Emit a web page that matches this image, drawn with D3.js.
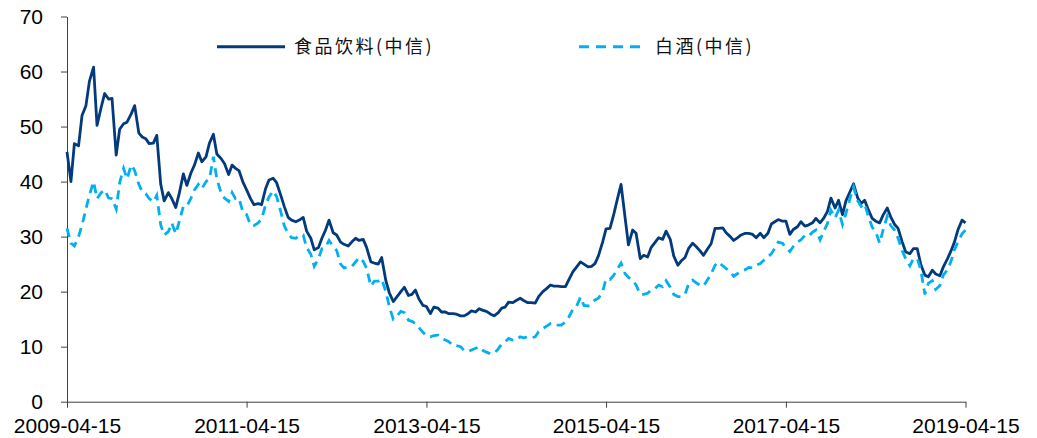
<!DOCTYPE html>
<html>
<head>
<meta charset="utf-8">
<script src="https://cdn.jsdelivr.net/npm/d3@7"></script>
<style>
  body { margin: 0; background: #fff; }
  svg { display: block; }
</style>
</head>
<body>
<svg id="chart" width="1037" height="438"></svg>
<script>
// data (semi-monthly samples: 15th, then 1st / 15th of each month)
const startDate = '2009-04-15';
const endDate = '2019-04-15';
const xTickLabels = ['2009-04-15', '2011-04-15', '2013-04-15', '2015-04-15', '2017-04-15', '2019-04-15'];
const yTickValues = [0, 10, 20, 30, 40, 50, 60, 70];
const seriesNames = ['食品饮料(中信)', '白酒(中信)'];

const foodValues = [
    45.4, 40, 46.9, 46.5, 52, 53.8, 58.2, 60.8, 50.2, 53.5, 56, 55, 55.1, 44.8, 49.5, 50.5, 50.8, 52.3, 53.8, 48.8,
    48.1, 47.8, 46.9, 47, 48.4, 39.5, 36.5, 38, 36.9, 35.3, 37.8, 41.4, 39.3, 41.6, 43, 45.2, 43.6, 44.5, 47, 48.6,
    45, 44.2, 43.3, 41.3, 43, 42.4, 42, 39.8, 38.5, 36.9, 35.8, 36, 35.8, 38.7, 40.3, 40.6, 39.8, 37.5, 35.5, 33.5,
    33, 32.7, 33, 33.5, 31, 29.7, 27.6, 28, 29.7, 31.2, 33, 30.7, 30.3, 29, 28.6, 28.3, 29, 29.7, 29.3, 29.5,
    28, 25.4, 25.2, 25, 26.2, 22, 19.8, 18.2, 19, 20, 20.8, 19.3, 19.5, 20.3, 18.7, 17.5, 17.3, 16, 17.2, 17,
    16.3, 16.3, 16, 16, 15.9, 15.6, 15.6, 16, 16.5, 16.3, 16.9, 16.6, 16.4, 15.9, 15.6, 16.2, 17, 17.2, 18.1, 18,
    18.4, 18.8, 18.4, 18, 18, 17.9, 19.1, 20, 20.5, 21.2, 21, 21, 20.9, 20.9, 22.2, 23.6, 24.4, 25.4, 25, 24.5,
    24.6, 25.1, 26.5, 29, 31.4, 31.5, 33.8, 37, 39.5, 33.6, 28.5, 31.2, 30.6, 26, 26.6, 26.3, 28, 29, 29.8, 29.5,
    31, 29.5, 26.5, 24.8, 25.6, 26.2, 27.8, 28.8, 28.2, 27.4, 26.6, 27.8, 28.7, 31.5, 31.5, 31.6, 30.7, 30, 29.3, 29.8,
    30.3, 30.6, 30.6, 30.4, 29.8, 30.6, 29.8, 30.6, 32.3, 32.7, 33.1, 32.8, 32.8, 30.4, 31.3, 31.8, 32.7, 31.9, 32.1, 32.5,
    33.3, 32.5, 33.3, 34.6, 37, 35.2, 36.6, 34, 36.5, 38.2, 39.6, 37, 36, 36.6, 35, 33.3, 32.8, 32.5, 33.9, 35.2,
    33.6, 32.2, 31.5, 29, 27.2, 26.9, 27.8, 27.8, 25, 23, 22.7, 23.9, 23.2, 22.9, 24.5, 26, 27.4, 29, 31.2, 33,
    32.5
];

const liquorValues = [
    31.5, 28.8, 28.3, 30, 32.1, 35, 37.5, 40, 36.9, 38, 38.5, 37, 36.9, 35, 39.8, 42.4, 40.5, 43, 42, 39.5,
    38.1, 37.8, 36.9, 36.3, 37.5, 32.1, 30.3, 30.9, 32.5, 30.5, 32.7, 35.5, 35.5, 37, 38.5, 39.5, 38.7, 40, 40.5, 44.5,
    40.5, 38, 37, 36.4, 38, 36.9, 37, 34.3, 34, 32.1, 32, 32.5, 33.2, 35.7, 37.2, 38.3, 37.3, 34.5, 32, 30.5,
    29.8, 29.7, 30.2, 30.3, 28, 26.8, 24.6, 26, 27.8, 28.1, 29.3, 28.2, 27.5, 25, 24.3, 24.5, 24.5, 25.4, 26.2, 25.5,
    24.2, 21, 21.9, 21.9, 22.3, 20, 17.3, 15, 15.5, 16.4, 16.2, 14.8, 14.6, 14.2, 13.5, 12.6, 12, 11.8, 12, 12.1,
    11.5, 11.2, 10.9, 10.2, 10.2, 10, 9.3, 9.1, 9.4, 9.7, 10, 9.3, 9, 8.7, 8.8, 9.6, 10.5, 10.9, 11.5, 11.2,
    11.2, 11.8, 11.6, 11.8, 11.6, 11.8, 12.7, 13.3, 13.7, 14.2, 14.3, 13.9, 13.9, 14.5, 15.4, 16.8, 17.2, 19, 17.5, 17.4,
    18, 18.5, 18.8, 20, 22.3, 22.2, 22.9, 24.2, 25.2, 23.3, 22.6, 22.1, 21.2, 19.5, 19.5, 19.7, 20.3, 20.6, 21.2, 20.9,
    22, 20.8, 19.5, 19.1, 19.1, 19.5, 21.3, 22.1, 21.6, 21.2, 21, 22.2, 23.2, 24.8, 25.4, 24.7, 24.2, 23.6, 22.8, 23.3,
    23.7, 24, 24.4, 24.3, 24.8, 25.1, 25.7, 26.3, 26.9, 27.9, 29, 28.8, 28, 27.3, 28.2, 29, 29.4, 30.2, 30, 30.8,
    31.2, 29.4, 30.9, 32.4, 34.8, 33.4, 34.8, 32.2, 34.2, 37, 39, 36.5, 35.5, 36, 33.8, 31.7, 30.9, 28.8, 31.2, 33.7,
    32, 31.2, 29.7, 27.4, 26, 24.7, 26, 26, 24, 19.5, 21.5, 22, 20.4, 21.1, 23, 24, 25.5, 27.6, 29, 30.5,
    31.2
];

const parseDate = d3.timeParse('%Y-%m-%d');

// sample dates: first point on the 15th, then the 1st and 15th of every month
const dates = [parseDate(startDate)];
d3.timeMonth.range(parseDate('2009-05-01'), d3.timeDay.offset(parseDate(endDate), 1)).forEach(m => {
    dates.push(m);
    dates.push(d3.timeDay.offset(m, 14));
});

const svg = d3.select('#chart');
const W = 1037, H = 438;
const margin = {top: 16.5, right: 71.5, bottom: 36.3, left: 67};

const x = d3.scaleTime()
    .domain([parseDate(startDate), parseDate(endDate)])
    .range([margin.left, W - margin.right]);

const y = d3.scaleLinear()
    .domain([0, 70])
    .range([H - margin.bottom, margin.top]);

const axisColor = '#404040';
const tickFont = '"Liberation Sans", Arial, sans-serif';

// y axis
const yAxis = svg.append('g')
    .attr('transform', `translate(${margin.left},0)`)
    .call(d3.axisLeft(y).tickValues(yTickValues).tickSize(6).tickSizeOuter(0).tickPadding(18).tickFormat(d3.format('d')));
yAxis.select('.domain').attr('stroke', axisColor);
yAxis.selectAll('.tick line').attr('stroke', axisColor);
yAxis.selectAll('text')
    .attr('font-family', tickFont)
    .attr('font-size', '21px')
    .attr('fill', '#000');

// x axis
const xAxis = svg.append('g')
    .attr('transform', `translate(0,${H - margin.bottom})`)
    .call(d3.axisBottom(x).tickValues(xTickLabels.map(parseDate)).tickSize(6).tickSizeOuter(0).tickPadding(10).tickFormat(d3.timeFormat('%Y-%m-%d')));
xAxis.select('.domain').attr('stroke', axisColor);
xAxis.selectAll('.tick line').attr('stroke', axisColor);
xAxis.selectAll('text')
    .attr('font-family', tickFont)
    .attr('font-size', '21px')
    .attr('fill', '#000');

// lines
const line = d3.line()
    .x((d, i) => x(dates[i]))
    .y(d => y(d));

const foodColor = '#023a7c';
const liquorColor = '#00b0f0';

svg.append('path')
    .datum(foodValues)
    .attr('fill', 'none')
    .attr('stroke', foodColor)
    .attr('stroke-width', 2.8)
    .attr('stroke-linejoin', 'round')
    .attr('d', line);

svg.append('path')
    .datum(liquorValues)
    .attr('fill', 'none')
    .attr('stroke', liquorColor)
    .attr('stroke-width', 2.8)
    .attr('stroke-dasharray', '9,6')
    .attr('d', line);

// legend
const legend = [
    {name: seriesNames[0], color: foodColor, dash: null, x1: 217, x2: 285},
    {name: seriesNames[1], color: liquorColor, dash: '10,7', x1: 579, x2: 646}
];
const legendY = 46.7;

const lg = svg.append('g').selectAll('g')
    .data(legend)
    .enter().append('g');

lg.append('line')
    .attr('x1', d => d.x1)
    .attr('x2', d => d.x2)
    .attr('y1', legendY)
    .attr('y2', legendY)
    .attr('stroke', d => d.color)
    .attr('stroke-width', 3)
    .attr('stroke-dasharray', d => d.dash);

lg.append('text')
    .attr('x', d => d.x2 + 9)
    .attr('y', legendY)
    .attr('dy', '0.35em')
    .attr('font-family', '"Noto Sans CJK SC", "Noto Sans", sans-serif')
    .attr('font-size', '18px')
    .attr('letter-spacing', '2.5px')
    .attr('fill', '#111')
    .text(d => d.name);
</script>
</body>
</html>
